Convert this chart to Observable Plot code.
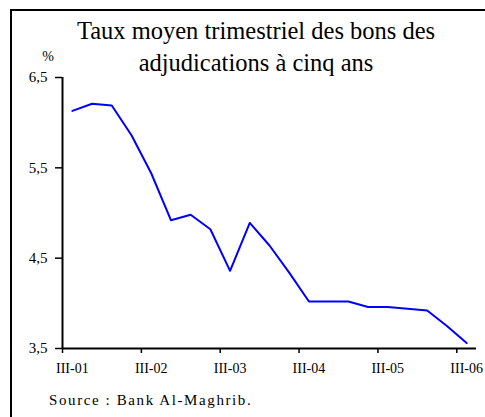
<!DOCTYPE html>
<html>
<head>
<meta charset="utf-8">
<script src="https://cdn.jsdelivr.net/npm/d3@7"></script>
<script src="https://cdn.jsdelivr.net/npm/@observablehq/plot@0.6"></script>
<style>
  html, body { margin: 0; padding: 0; background: #fff; overflow: hidden; }
  #wrap { position: relative; width: 485px; height: 417px; font-family: "Liberation Serif", serif; color: #000; }
  #wrap svg { position: absolute; left: 0; top: 0; }
  .frame { position: absolute; left: 10px; top: 9px; width: 480px; height: 420px; border-top: 2px solid #000; border-left: 2px solid #000; box-sizing: border-box; }
  .title { position: absolute; left: 27px; width: 458px; top: 15.4px; text-align: center; font-size: 24.5px; line-height: 31.7px; white-space: nowrap; }
  .unit { position: absolute; left: 40px; width: 16px; text-align: center; top: 49.8px; font-size: 14px; line-height: 14px; }
  .source { position: absolute; left: 49px; top: 393.4px; font-size: 15px; line-height: 15px; letter-spacing: 1.6px; white-space: nowrap; }
</style>
</head>
<body>
<div id="wrap">
  <div class="frame"></div>
</div>
<script>
// Quarterly categories (Q3 2001 to Q3 2006)
const quarters = ["III-01","IV-01","I-02","II-02","III-02","IV-02","I-03","II-03","III-03","IV-03","I-04","II-04","III-04","IV-04","I-05","II-05","III-05","IV-05","I-06","II-06","III-06"];
// Average quarterly rate of 5-year treasury bills (%)
const rates = [6.13, 6.21, 6.19, 5.86, 5.44, 4.92, 4.98, 4.82, 4.36, 4.89, 4.64, 4.34, 4.02, 4.02, 4.02, 3.96, 3.96, 3.94, 3.92, 3.75, 3.56];
// Labelled categories on the x axis
const tickLabels = ["III-01","III-02","III-03","III-04","III-05","III-06"];
// Y axis ticks
const yTicks = [3.5, 4.5, 5.5, 6.5];

const titleText = ["Taux moyen trimestriel des bons des", "adjudications à cinq ans"];
const unitText = "%";
const sourceText = "Source : Bank Al-Maghrib.";

const data = quarters.map((q, i) => ({i, q, rate: rates[i]}));
const tickIdx = tickLabels.map(l => quarters.indexOf(l));
const fmt = d => d.toFixed(1).replace(".", ",");

const chart = Plot.plot({
  width: 485,
  height: 417,
  marginLeft: 62,
  marginRight: 9,
  marginTop: 77,
  marginBottom: 69,
  x: {domain: [0, quarters.length], axis: null},
  y: {domain: [3.5, 6.5], axis: null},
  style: {fontFamily: "Liberation Serif", background: "transparent", color: "#000"},
  marks: [
    Plot.axisY(yTicks, {tickSize: 7, tickPadding: 8, tickFormat: fmt, fontSize: 15, strokeWidth: 1.5, label: null}),
    Plot.axisX(tickIdx, {tickSize: 5, tickFormat: () => "", strokeWidth: 1.5, label: null}),
    Plot.axisX(tickIdx.map(i => i + 0.5), {tickSize: 0, tickPadding: 15, tickFormat: d => quarters[Math.round(d - 0.5)], fontSize: 14, label: null}),
    Plot.ruleX([0], {strokeWidth: 2}),
    Plot.ruleY([3.5], {strokeWidth: 2}),
    Plot.line(data, {x: d => d.i + 0.5, y: "rate", stroke: "#0000ff", strokeWidth: 2})
  ]
});

const wrap = document.getElementById("wrap");
wrap.insertBefore(chart, wrap.firstChild);

const t = document.createElement("div");
t.className = "title";
t.innerHTML = titleText.join("<br>");
wrap.appendChild(t);

const u = document.createElement("div");
u.className = "unit";
u.textContent = unitText;
wrap.appendChild(u);

const s = document.createElement("div");
s.className = "source";
s.textContent = sourceText;
wrap.appendChild(s);
</script>
</body>
</html>
